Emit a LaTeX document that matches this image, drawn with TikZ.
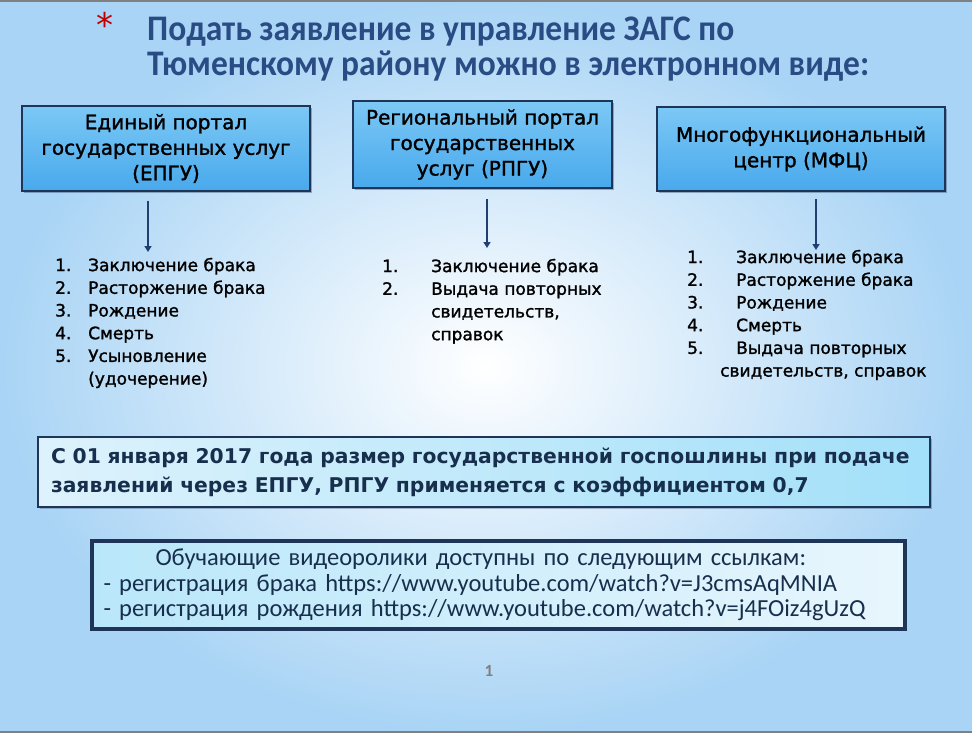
\documentclass[tikz,border=0pt]{standalone}
\usepackage{fontspec}
\setmainfont{DejaVu Sans}
\newfontfamily\titlefont[FakeStretch=0.93]{Carlito}
\newfontfamily\linkfont{Carlito}
\newfontfamily\itemfont[FakeBold=1.4]{DejaVu Sans}
\usetikzlibrary{positioning, shadows, arrows.meta}
\definecolor{navy}{HTML}{1F3557}
\definecolor{deeptext}{HTML}{172F4D}
\definecolor{titleblue}{HTML}{2A4C84}
\definecolor{arrowblue}{HTML}{223F73}
\definecolor{bgblue}{HTML}{A9D4F5}
\definecolor{portaltop}{HTML}{7CC8F5}
\definecolor{portalbot}{HTML}{48A9EC}
\definecolor{feeleft}{HTML}{DDF2FC}
\definecolor{feeright}{HTML}{A3E0F9}
\definecolor{linkleft}{HTML}{B9E7FA}
\definecolor{linkright}{HTML}{E8F6FD}
\tikzset{
    portal box/.style={draw=navy, line width=1.8pt, top color=portaltop, bottom color=portalbot, align=center, inner sep=2pt, font=\itemfont\fontsize{20}{25.5}\selectfont, drop shadow={shadow xshift=1.5pt, shadow yshift=-2pt, opacity=0.35, fill=navy}},
    item list/.style={anchor=north west, inner sep=0pt, font=\itemfont\fontsize{17}{22.7}\selectfont},
    down arrow/.style={draw=arrowblue, line width=2.2pt, -{Triangle[width=7pt, length=6pt]}},
    note box/.style={draw=navy, align=left, text=deeptext, drop shadow={shadow xshift=1.5pt, shadow yshift=-2pt, opacity=0.3, fill=navy}},
}
\newcommand{\pagebackground}{
    \shade[inner color=white, outer color=bgblue] (0,0) rectangle (972,733);
    \draw[gray, line width=2pt] (0,1) -- (972,1);
    \draw[gray, line width=2pt] (0,732) -- (972,732);
}

\begin{document}
\begin{tikzpicture}[x=1pt, y=-1pt]
    \useasboundingbox (0,0) rectangle (972,733);
    \pagebackground
    % heading
    \node[text=red!75!black, font=\fontsize{34}{34}\selectfont] (star) at (105,25) {*};
    \node[anchor=north west, align=left, inner sep=0pt, text=titleblue, font=\titlefont\bfseries\fontsize{36}{35}\selectfont] (title) at (147,17)
        {Подать заявление в управление ЗАГС по\\Тюменскому району можно в электронном виде:};
    % three portals
    \node[portal box, minimum width=288pt, minimum height=85pt] (epgu) at (166,148.5)
        {Единый портал\\государственных услуг\\(ЕПГУ)};
    \node[portal box, minimum width=259pt, minimum height=87pt] (rpgu) at (482.5,144.5)
        {Региональный портал\\государственных\\услуг (РПГУ)};
    \node[portal box, minimum width=288pt, minimum height=84pt] (mfc) at (801,149)
        {Многофункциональный\\центр (МФЦ)};
    % arrow ends
    \coordinate (epgu end) at (148,252);
    \coordinate (rpgu end) at (487,248);
    \coordinate (mfc end) at (816,250);
    \draw[down arrow] ([yshift=-9pt]epgu.south -| epgu end) -- (epgu end);
    \draw[down arrow] ([yshift=-10pt]rpgu.south -| rpgu end) -- (rpgu end);
    \draw[down arrow] ([yshift=-7pt]mfc.south -| mfc end) -- (mfc end);
    % service lists
    \node[item list] (epgu list) at (55,255) {\begin{tabular}{@{}p{33pt}@{}l@{}}
        1. & Заключение брака\\
        2. & Расторжение брака\\
        3. & Рождение\\
        4. & Смерть\\
        5. & Усыновление\\
           & (удочерение)
    \end{tabular}};
    \node[item list] (rpgu list) at (382,256) {\begin{tabular}{@{}p{49pt}@{}l@{}}
        1. & Заключение брака\\
        2. & Выдача повторных\\
           & свидетельств,\\
           & справок
    \end{tabular}};
    \node[item list] (mfc list) at (687,247) {\begin{tabular}{@{}p{49pt}@{}l@{}}
        1. & Заключение брака\\
        2. & Расторжение брака\\
        3. & Рождение\\
        4. & Смерть\\
        5. & Выдача повторных\\
        \multicolumn{2}{@{\hspace{33pt}}l@{}}{свидетельств, справок}
    \end{tabular}};
    % fee note
    \node[note box, line width=1.2pt, left color=feeleft, right color=feeright, text width=866pt, minimum height=70pt, inner xsep=13pt,
          font=\bfseries\fontsize{20.3}{29}\selectfont] (fee) at (484,472)
        {С 01 января 2017 года размер государственной госпошлины при подаче\\заявлений через ЕПГУ, РПГУ применяется с коэффициентом 0,7};
    % video links
    \node[note box, line width=3.5pt, left color=linkleft, right color=linkright, text width=790pt, inner xsep=11.5pt, minimum height=88pt,
          font=\linkfont\fontsize{24.5}{25.5}\selectfont] (videos) at (498.5,585)
        {\hspace*{52pt}Обучающие видеоролики доступны по следующим ссылкам:\\
         - регистрация брака https://www.youtube.com/watch?v=J3cmsAqMNIA\\
         - регистрация рождения https://www.youtube.com/watch?v=j4FOiz4gUzQ};
    \node[text=gray, font=\linkfont\bfseries\fontsize{17}{17}\selectfont] (page) at (489,671) {1};
\end{tikzpicture}
\end{document}
